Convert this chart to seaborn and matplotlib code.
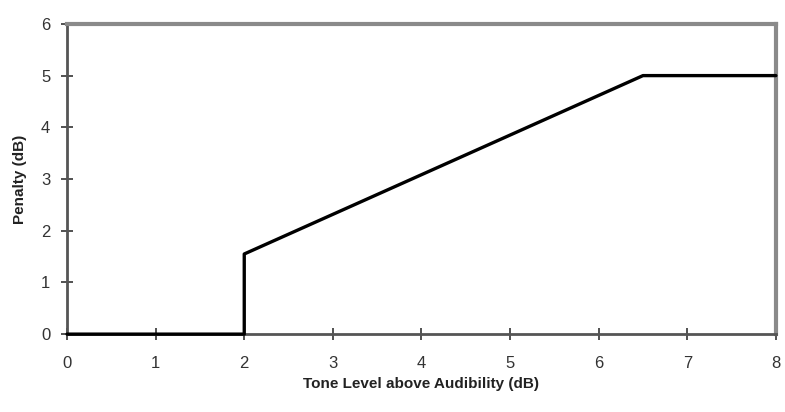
import numpy as np
import pandas as pd
import matplotlib
matplotlib.use("Agg")
import matplotlib.pyplot as plt
import seaborn as sns

# Penalty curve points
tone_level = [0, 2, 2, 6.5, 8]
penalty = [0, 0, 1.55, 5, 5]
x_ticks = [0, 1, 2, 3, 4, 5, 6, 7, 8]
y_ticks = [0, 1, 2, 3, 4, 5, 6]

sns.set_style("white")
plt.rcParams['font.family'] = ['Liberation Sans', 'DejaVu Sans']

df = pd.DataFrame({'tone': tone_level, 'penalty': penalty})

fig = plt.figure(figsize=(7.85, 4.12), dpi=100)
ax = fig.add_axes([0.0854, 0.189, 0.903, 0.753])

# estimator=None keeps the vertical step at x=2
sns.lineplot(data=df, x='tone', y='penalty', sort=False, estimator=None,
             color='black', linewidth=2.4, ax=ax)
for line in ax.lines:
    line.set_clip_on(False)
    line.set_zorder(3)

ax.set_xlim(0, 8)
ax.set_ylim(0, 6)
ax.set_xticks(x_ticks)
ax.set_yticks(y_ticks)
ax.tick_params(bottom=True, left=True, direction='inout', length=8, width=1.2,
               color='#333333', labelsize=12, labelcolor='#333333', pad=8)
ax.tick_params(axis='x', pad=12)

for side in ['top', 'right']:
    ax.spines[side].set_color('#8a8a8a')
    ax.spines[side].set_linewidth(3)
for side in ['left', 'bottom']:
    ax.spines[side].set_color('#555555')
    ax.spines[side].set_linewidth(2)

ax.set_xlabel('Tone Level above Audibility (dB)', fontsize=11, fontweight='bold', labelpad=4, color='#222222')
ax.set_ylabel('Penalty (dB)', fontsize=11, fontweight='bold', labelpad=10, color='#222222')

plt.savefig('out.png', dpi=100)
plt.close()
